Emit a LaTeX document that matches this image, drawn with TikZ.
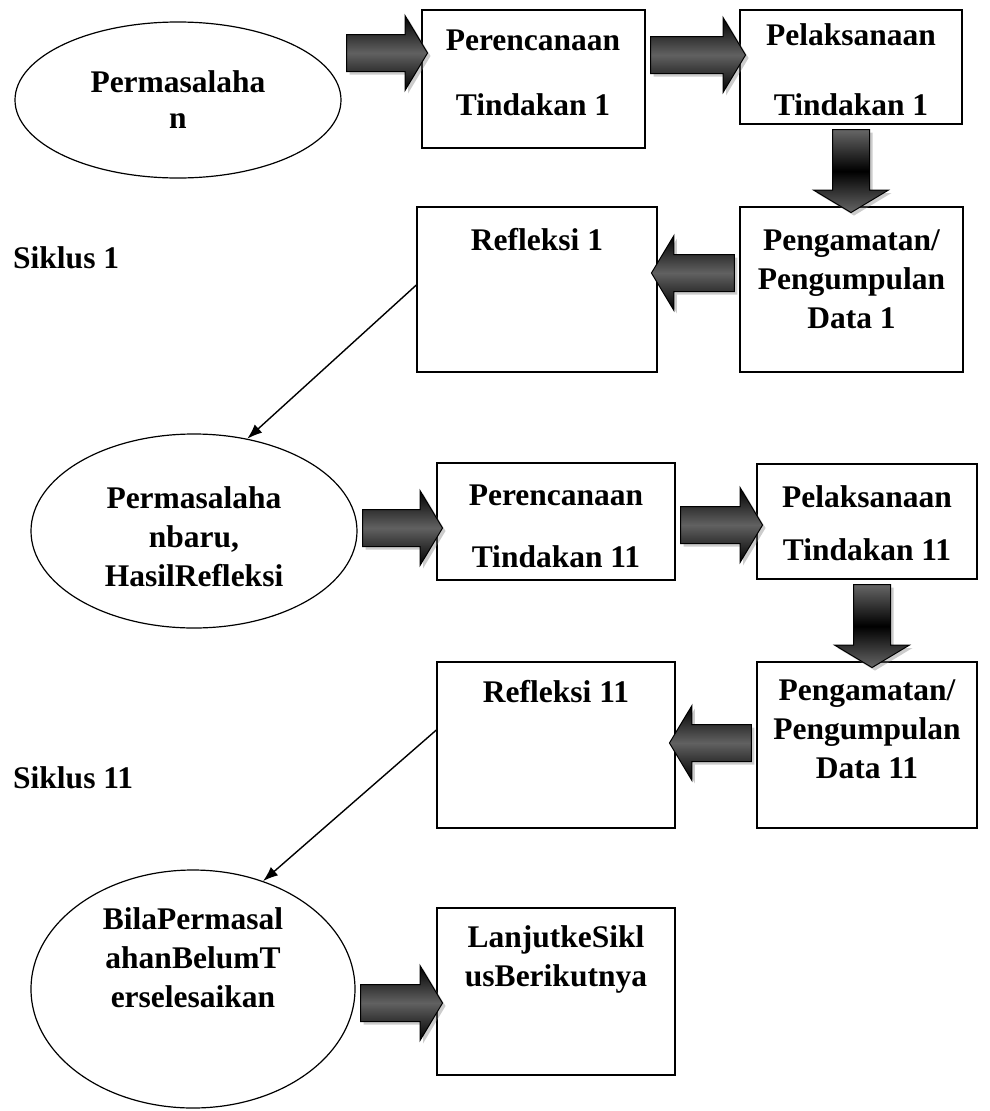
\documentclass[tikz,border=0pt]{standalone}
\usepackage{fontspec}
\setmainfont{Liberation Serif}
\usetikzlibrary{shapes,arrows.meta,positioning,shadows}

\tikzset{
  oval/.style={ellipse, draw, line width=1.2pt, inner sep=0pt},
  box/.style={rectangle, draw, line width=1.3pt, inner sep=0pt},
  txt/.style={align=center, inner sep=0pt,
    font=\fontsize{31.5}{39}\selectfont\bfseries},
  fatarrow/.style={single arrow, draw=black, line width=1pt,
    inner xsep=0pt, inner ysep=18pt, single arrow head extend=19pt,
    single arrow tip angle=118,
    top color=black, bottom color=black, middle color=black!62,
    drop shadow={shadow xshift=3pt, shadow yshift=-3pt, opacity=.4}},
  downarrow/.style={fatarrow, top color=black!60,
    bottom color=black!60, middle color=black},
  link/.style={line width=1.4pt, -{Latex[length=15pt,width=11pt]}},
}

\begin{document}
\begin{tikzpicture}[x=1pt,y=-1pt]
  \useasboundingbox (0,0) rectangle (990,1111);

  % siklus 1
  \node[oval, minimum width=326pt, minimum height=156pt] (e1) at (178,100) {};
  \node[txt] (te1) at (178,100) {Permasalaha\\[-3pt]n};

  \node[box, minimum width=223pt, minimum height=138pt] (b1) at (533.5,79) {};
  \node[txt] (tb1) at (533,72.5) {Perencanaan\\[26pt]Tindakan 1};

  \node[box, minimum width=222pt, minimum height=114pt] (b2) at (851,67) {};
  \node[txt] (tb2) at (851,70) {Pelaksanaan\\[31pt]Tindakan 1};

  \node[box, minimum width=223pt, minimum height=165pt] (b3) at (851.5,289.5) {};
  \node[txt] (tb3) at (851.5,279) {Pengamatan/\\Pengumpulan\\Data 1};

  \node[box, minimum width=240pt, minimum height=165pt] (b4) at (537,289.5) {};
  \node[txt] (tb4) at (537,240) {Refleksi 1};

  \node[txt, anchor=west] (s1) at (13,258) {Siklus 1};

  \path (e1.east |- 0,53) -- node[fatarrow, minimum height=81pt] (a1) {} (b1.west |- 0,53);
  \path (b1.east |- 0,55) -- node[fatarrow, minimum height=95pt] (a2) {} (b2.west |- 0,55);
  \path (b2.south -| 851,0) -- node[downarrow, minimum height=83pt, rotate=-90] (a3) {} (b3.north -| 851,0);
  \path (b3.west |- 0,273) -- node[fatarrow, minimum height=83pt, rotate=180] (a4) {} (b4.east |- 0,273);

  % siklus 11
  \node[oval, minimum width=326pt, minimum height=194pt] (e2) at (194,531) {};
  \node[txt] (te2) at (194,537) {Permasalaha\\nbaru,\\HasilRefleksi};

  \node[box, minimum width=238pt, minimum height=117pt] (b5) at (556,521.5) {};
  \node[txt] (tb5) at (556,526) {Perencanaan\\[23pt]Tindakan 11};

  \node[box, minimum width=220pt, minimum height=115pt] (b6) at (867,521.5) {};
  \node[txt] (tb6) at (867,523.5) {Pelaksanaan\\[14pt]Tindakan 11};

  \node[box, minimum width=220pt, minimum height=166pt] (b7) at (867,745) {};
  \node[txt] (tb7) at (867,729) {Pengamatan/\\Pengumpulan\\Data 11};

  \node[box, minimum width=238pt, minimum height=166pt] (b8) at (556,745) {};
  \node[txt] (tb8) at (556,692) {Refleksi 11};

  \node[txt, anchor=west] (s2) at (13,778) {Siklus 11};

  \path (e2.east |- 0,528) -- node[fatarrow, minimum height=80pt] (a5) {} (b5.west |- 0,528);
  \path (b5.east |- 0,525) -- node[fatarrow, minimum height=82pt] (a6) {} (b6.west |- 0,525);
  \path (b6.south -| 872,0) -- node[downarrow, minimum height=83pt, rotate=-90] (a7) {} (b7.north -| 872,0);
  \path (b7.west |- 0,743) -- node[fatarrow, minimum height=82pt, rotate=180] (a8) {} (b8.east |- 0,743);

  % lanjut
  \node[oval, minimum width=324pt, minimum height=238pt] (e3) at (193,989) {};
  \node[txt] (te3) at (193,958) {BilaPermasal\\ahanBelumT\\erselesaikan};

  \node[box, minimum width=238pt, minimum height=167pt] (b9) at (556,991.5) {};
  \node[txt] (tb9) at (556,959) {LanjutkeSikl\\usBerikutnya};

  \path (e3.east |- 0,1003) -- node[fatarrow, minimum height=82pt] (a9) {} (b9.west |- 0,1003);

  \draw[link] ([yshift=4.5pt]b4.west) -- (e2.60);
  \draw[link] ([yshift=15pt]b8.west) -- (e3.57);
\end{tikzpicture}
\end{document}
